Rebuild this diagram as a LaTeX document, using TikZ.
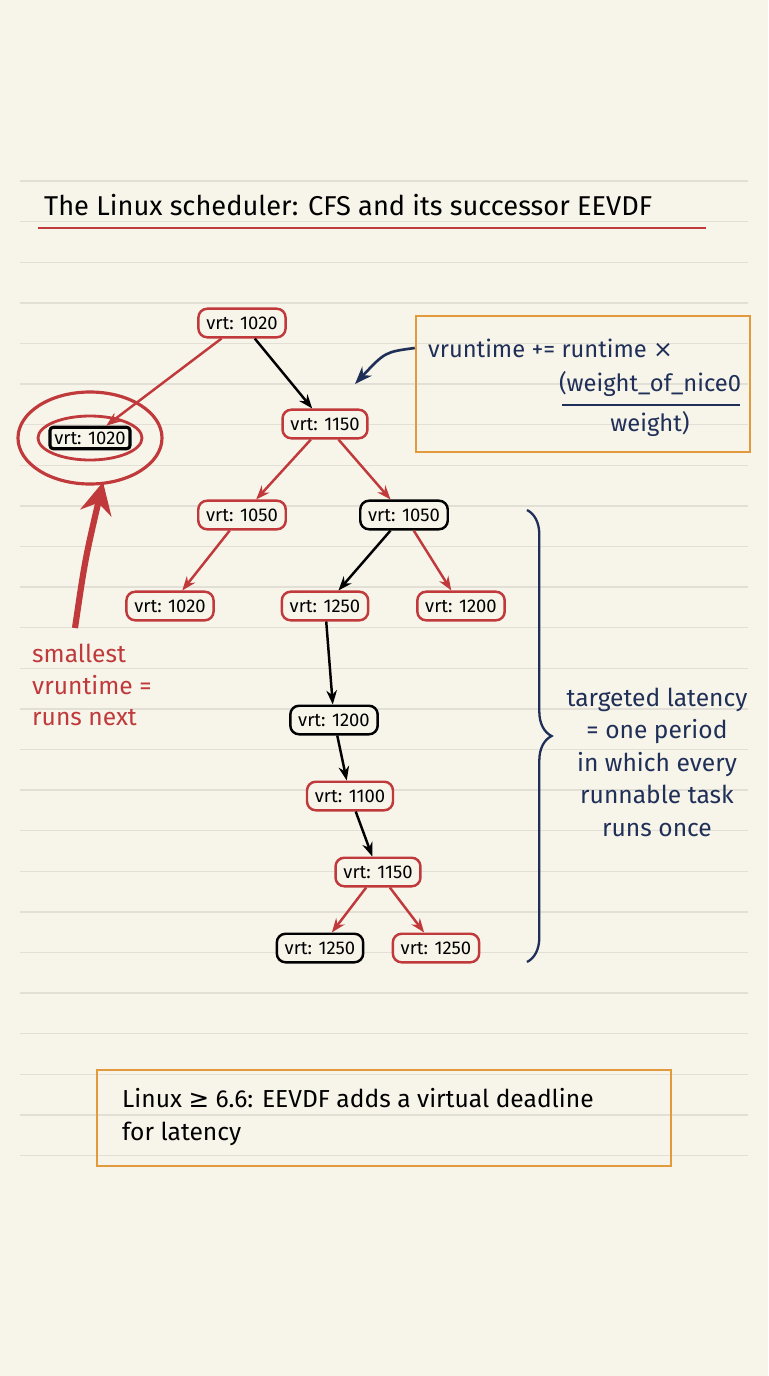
\documentclass[tikz,border=0pt]{standalone}
\usepackage{fontspec}
\setmainfont{Fira Sans}
\newfontfamily\symfont{DejaVu Sans}
\usetikzlibrary{calc,decorations.pathreplacing,arrows.meta}
\definecolor{paper}{HTML}{F7F4EA}
\definecolor{rline}{HTML}{E2DFD7}
\definecolor{tred}{HTML}{C0393B}
\definecolor{navy}{HTML}{1F2F57}
\definecolor{boxor}{HTML}{E39A3C}
\tikzset{
    vnode/.style={draw=tred,rounded corners=5pt,line width=1.4pt,fill=paper,inner sep=4.5pt,font=\fontsize{10.5}{12}\selectfont},
    vblack/.style={vnode,draw=black},
    redge/.style={draw=tred,line width=1.4pt,-{Stealth[length=8pt]}},
    bedge/.style={draw=black,line width=1.4pt,-{Stealth[length=8pt]}},
}
\begin{document}
\begin{tikzpicture}[x=0.02cm,y=-0.02cm]
    \fill[paper] (0,0) rectangle (768,1376);
    \useasboundingbox (0,0) rectangle (768,1376);
    \foreach \k in {0,...,24}{
            \draw[rline,line width=0.8pt] (20,181+40.6*\k)--(748,181+40.6*\k);
        }
    % title
    \node[anchor=west,font=\fontsize{15.5}{18}\selectfont] (title) at (38,205) {The Linux scheduler: CFS and its successor EEVDF};
    \draw[tred,line width=1.4pt] (38,228)--(706,228);
    % tree
    \node[vnode] (root) at (242,323) {vrt: 1020};
    \node[vblack,line width=1.8pt,rounded corners=2pt,inner sep=2.5pt] (left) at (90,438) {vrt: 1020};
    \node[vnode] (n1150) at (325,424) {vrt: 1150};
    \node[vnode] (a1050) at (242,515) {vrt: 1050};
    \node[vblack] (b1050) at (404,515) {vrt: 1050};
    \node[vnode] (c1020) at (170,606) {vrt: 1020};
    \node[vnode] (d1250) at (325,606) {vrt: 1250};
    \node[vnode] (e1200) at (461,606) {vrt: 1200};
    \node[vblack] (f1200) at (334,720) {vrt: 1200};
    \node[vnode] (g1100) at (350,796) {vrt: 1100};
    \node[vnode] (h1150) at (378,872) {vrt: 1150};
    \node[vblack] (i1250) at (320,948) {vrt: 1250};
    \node[vnode] (j1250) at (436,948) {vrt: 1250};
    \draw[redge] (root)--(left);
    \draw[bedge] (root)--(n1150);
    \draw[redge] (n1150)--(a1050);
    \draw[redge] (n1150)--(b1050);
    \draw[redge] (a1050)--(c1020);
    \draw[bedge] (b1050)--(d1250);
    \draw[redge] (b1050)--(e1200);
    \draw[bedge] (d1250)--(f1200);
    \draw[bedge] (f1200)--(g1100);
    \draw[bedge] (g1100)--(h1150);
    \draw[redge] (h1150)--(i1250);
    \draw[redge] (h1150)--(j1250);
    % smallest
    \draw[tred,line width=1.8pt] (left) ellipse (72 and 46);
    \draw[tred,line width=1.6pt] (left) ellipse (52 and 22);
    \coordinate (sm) at (75,628);
    \coordinate (sme) at (103,482);
    \draw[tred,line width=3.5pt,-{Stealth[length=18pt,width=18pt]}] (sm) .. controls (85,560) .. (sme);
    \node[anchor=north west,align=left,text=tred,font=\fontsize{14}{18}\selectfont] (smtext) at (26,638) {smallest\\vruntime =\\runs next};
    % formula
    \node[draw=boxor,line width=1.4pt,minimum width=334*0.02cm,minimum height=136*0.02cm] (fbox) at (583,384) {};
    \node[anchor=west,text=navy,font=\fontsize{13.5}{16}\selectfont] (f1) at (422,348) {vruntime += runtime {\symfont×}};
    \node[text=navy,font=\fontsize{13.5}{16}\selectfont] (f2) at (650,384) {(weight\_of\_nice0};
    \draw[navy,line width=1.3pt] (562,405)--(740,405);
    \node[text=navy,font=\fontsize{13.5}{16}\selectfont] (f3) at (650,424) {weight)};
    \coordinate (fa) at (355,384);
    \draw[navy,line width=1.5pt,-{Stealth[length=10pt]}] (fbox.west |- f1) .. controls (385,352) .. (fa);
    % latency
    \coordinate (bt) at (527,510);
    \coordinate (bb) at (527,962);
    \draw[navy,line width=1.3pt,decorate,decoration={brace,amplitude=14pt}] (bt)--(bb);
    \node[align=center,text=navy,font=\fontsize{14}{18.5}\selectfont] (lat) at (657,762) {targeted latency\\= one period\\in which every\\runnable task\\runs once};
    % footer
    \node[draw=boxor,line width=1.4pt,anchor=north west,minimum width=574*0.02cm,minimum height=96*0.02cm] (foot) at (96,1069) {};
    \node[anchor=west,align=left,font=\fontsize{14}{19}\selectfont] (ftext) at (116,1117) {Linux {\symfont≥} 6.6: EEVDF adds a virtual deadline\\for latency};
\end{tikzpicture}
\end{document}
